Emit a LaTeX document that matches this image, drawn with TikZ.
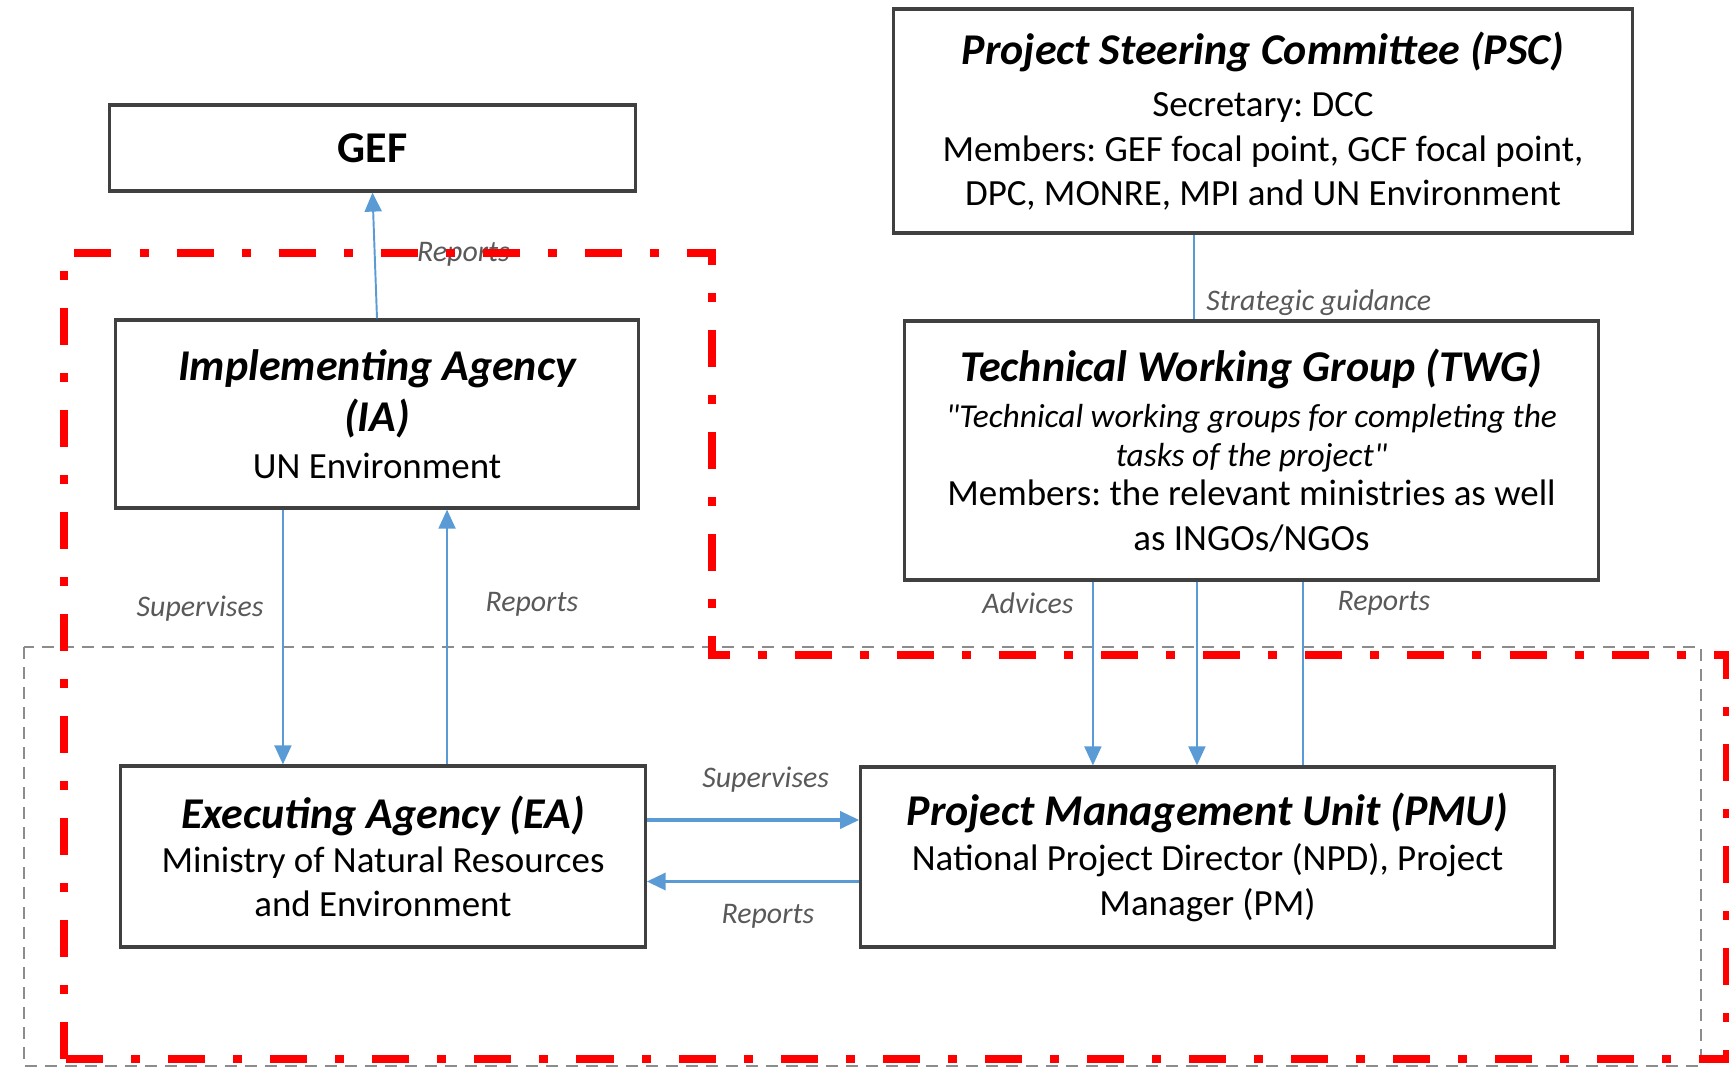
\documentclass[tikz,border=0pt]{standalone}
\usepackage{fontspec}
\setmainfont{Carlito}
\frenchspacing
\usetikzlibrary{arrows.meta}
\definecolor{linkblue}{HTML}{5B9BD5}
\definecolor{taggray}{HTML}{595959}
\newcommand{\headfont}{\fontsize{12.5}{15}\selectfont\bfseries\itshape}
\newcommand{\quotefont}{\fontsize{9.5}{11}\selectfont\itshape}
\tikzstyle{block} = [rectangle, draw=black!75, line width=0.9pt, fill=white,
                 align=center, inner sep=0pt, font=\fontsize{10.5}{12.6}\selectfont]
\tikzstyle{link} = [draw=linkblue, line width=0.55pt]
\tikzstyle{arrow} = [link, -{Triangle[length=0.19cm,width=0.17cm]}]
\tikzstyle{tag} = [font=\fontsize{8.5}{10}\selectfont\itshape, text=taggray, inner sep=1pt]
\tikzstyle{grayzone} = [draw=black!45, line width=0.6pt, dash pattern=on 0.12cm off 0.08cm]
\tikzstyle{redzone} = [draw=red, line width=2.4pt,
                 dash pattern=on 0.37cm off 0.28cm on 0.09cm off 0.28cm]

\begin{document}
\begin{tikzpicture}[x=0.01cm, y=-0.01cm]

\useasboundingbox (0,0) rectangle (1729,1070);
\draw [grayzone] (24,647) rectangle (1701,1066);

\node [block, minimum width=5.25cm, minimum height=0.86cm] at (372.5,148) (gef)
	{{\fontsize{12.5}{15}\selectfont\bfseries GEF}};
\node [block, minimum width=7.38cm, minimum height=2.24cm] at (1263,121) (psc)
	{{\headfont Project Steering Committee (PSC)}\\[2.4pt]
	 Secretary: DCC\\
	 Members: GEF focal point, GCF focal point,\\
	 DPC, MONRE, MPI and UN Environment};
\node [block, minimum width=5.22cm, minimum height=1.88cm] at (377,414) (ia)
	{{\headfont Implementing Agency}\\[2pt]
	 {\headfont (IA)}\\[0.6pt]
	 UN Environment};
\node [block, minimum width=6.93cm, minimum height=2.59cm] at (1251.5,450.5) (twg)
	{{\headfont Technical Working Group (TWG)}\\[0.3pt]
	 {\quotefont \textquotedbl Technical working groups for completing the}\\[-1.4pt]
	 {\quotefont tasks of the project\textquotedbl}\\[-1.4pt]
	 Members: the relevant ministries as well\\
	 as INGOs/NGOs};
\node [block, minimum width=5.24cm, minimum height=1.81cm] at (383,856.5) (ea)
	{{\headfont Executing Agency (EA)}\\[0pt]
	 Ministry of Natural Resources\\
	 and Environment};
\node [block, minimum width=6.93cm, minimum height=1.8cm] at (1207.5,857) (pmu)
	{{\headfont Project Management Unit (PMU)}\\[0.4pt]
	 National Project Director (NPD), Project\\
	 Manager (PM)};

% reporting lines
\path [arrow] (ia.north) -- node[tag, pos=0.51, right=0.38cm] {Reports} (gef.south);
\path [arrow] ([xshift=-0.94cm]ia.south) -- node[tag, pos=0.39, left=0.15cm] {Supervises}
	([xshift=-0.94cm]ia.south |- ea.north);
\path [arrow] ([xshift=0.64cm]ea.north) -- node[tag, pos=0.63, right=0.34cm] {Reports}
	([xshift=0.64cm]ea.north |- ia.south);
\path [link] ([xshift=-0.69cm]psc.south) -- node[tag, pos=0.8, right=0.08cm] {Strategic guidance}
	([xshift=-0.69cm]psc.south |- twg.north);
\path [arrow] ([xshift=-1.585cm]twg.south) -- node[tag, pos=0.12, left=0.15cm] {Advices}
	([xshift=-1.585cm]twg.south |- pmu.north);
\path [arrow] ([xshift=-0.545cm]twg.south) -- ([xshift=-0.545cm]twg.south |- pmu.north);
\path [link] ([xshift=0.955cm]pmu.north) -- node[tag, pos=0.88, right=0.3cm] {Reports}
	([xshift=0.955cm]pmu.north |- twg.south);
\path [arrow, line width=1pt] ([yshift=0.365cm]ea.east) -- node[tag, pos=0.56, above=0.22cm] {Supervises}
	([yshift=0.365cm]ea.east -| pmu.west);
\path [arrow, line width=1pt] ([yshift=-0.245cm]pmu.west) -- node[tag, pos=0.43, below=0.18cm] {Reports}
	([yshift=-0.245cm]pmu.west -| ea.east);

\draw [redzone] (64,1059) -- (64,253) -- (712,253) -- (712,655) -- (1727,655)
	-- (1727,1059) -- cycle;

\end{tikzpicture}
\end{document}
